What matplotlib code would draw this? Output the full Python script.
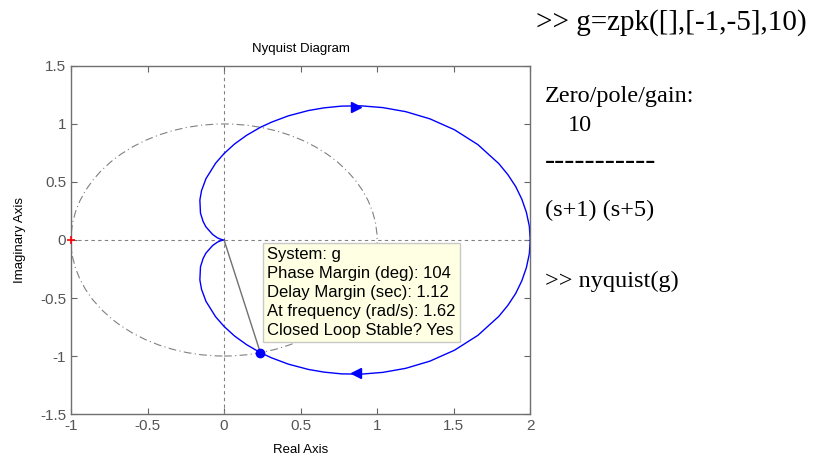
import matplotlib.pyplot as plt
from matplotlib.patches import Circle

# Nyquist curve, lower half (omega from 0 up to large)
nyq_re = [2.0, 1.994, 1.975, 1.945, 1.905, 1.854, 1.795, 1.658, 1.505, 1.345,
          1.187, 1.037, 0.897, 0.769, 0.654, 0.552, 0.420, 0.311, 0.237, 0.147,
          0.069, 0.0, -0.055, -0.118, -0.147, -0.158, -0.154, -0.137, -0.119,
          -0.075, -0.044, -0.023, -0.004, 0.0]
nyq_im = [0.0, -0.120, -0.238, -0.352, -0.461, -0.563, -0.658, -0.822, -0.950,
          -1.044, -1.106, -1.141, -1.156, -1.154, -1.139, -1.116, -1.070,
          -1.016, -0.971, -0.902, -0.828, -0.745, -0.662, -0.529, -0.426,
          -0.344, -0.231, -0.160, -0.114, -0.048, -0.019, -0.007, -0.0005, 0.0]

# arrow positions (upper / lower branch)
arrow_pt = [0.86, 1.150]
# phase margin point
pm_pt = [0.237, -0.971]

xticks = [-1, -0.5, 0, 0.5, 1, 1.5, 2]
xtick_labels = ['-1', '-0.5', '0', '0.5', '1', '1.5', '2']
yticks = [-1.5, -1, -0.5, 0, 0.5, 1, 1.5]
ytick_labels = ['-1.5', '-1', '-0.5', '0', '0.5', '1', '1.5']

tip_lines = ['System: g',
             'Phase Margin (deg): 104',
             'Delay Margin (sec): 1.12',
             'At frequency (rad/s): 1.62',
             'Closed Loop Stable? Yes']

# text, x, y, size
console_lines = [
    ('>> g=zpk([],[-1,-5],10)', 0.642, 0.950, 21),
    ('Zero/pole/gain:', 0.653, 0.790, 17.5),
    ('10', 0.680, 0.725, 17.5),
    ('-----------', 0.653, 0.648, 22),
    ('(s+1) (s+5)', 0.653, 0.540, 17.5),
    ('>> nyquist(g)', 0.653, 0.386, 17.5),
]

plt.rcParams['font.family'] = ['Liberation Sans', 'DejaVu Sans']

fig = plt.figure(figsize=(8.35, 4.58), dpi=100)
ax = fig.add_axes([0.085, 0.096, 0.550, 0.760])

gray = '#808080'
# unit circle
ax.add_patch(Circle((0, 0), 1, fill=False, ec=gray, lw=0.8, ls=(0, (7, 3, 1, 3))))
# axes through origin
ax.axhline(0, color=gray, lw=0.8, ls=(0, (3, 3)))
ax.axvline(0, color=gray, lw=0.8, ls=(0, (3, 3)))

ax.plot(nyq_re, nyq_im, color='blue', lw=1)
ax.plot(nyq_re, [-v for v in nyq_im], color='blue', lw=1)
ax.plot(arrow_pt[0], arrow_pt[1], marker='>', color='blue', ms=7, mec='blue')
ax.plot(arrow_pt[0], -arrow_pt[1], marker='<', color='blue', ms=7, mec='blue')

# critical point
ax.plot(-1, 0, marker='+', color='red', ms=6, mew=1.2, clip_on=False, zorder=5)

# phase margin marker and line from origin
ax.plot([0, pm_pt[0]], [0, pm_pt[1]], color='#707070', lw=1)
ax.plot(pm_pt[0], pm_pt[1], 'o', color='blue', ms=6)

ax.text(0.28, -0.06, '\n'.join(tip_lines), fontsize=12, va='top', ha='left',
        linespacing=1.34,
        bbox=dict(boxstyle='square,pad=0.25', fc='#ffffe3', ec='#c8c8c8', lw=1))

ax.set_xlim(-1, 2)
ax.set_ylim(-1.5, 1.5)
ax.set_xticks(xticks)
ax.set_xticklabels(xtick_labels)
ax.set_yticks(yticks)
ax.set_yticklabels(ytick_labels)
ax.tick_params(direction='in', top=True, right=True, length=4, width=0.8,
               colors='#666666', labelsize=11, labelcolor='#555555')
for s in ax.spines.values():
    s.set_color('#707070')
    s.set_linewidth(1)

ax.set_title('Nyquist Diagram', fontsize=9.5, pad=10)
ax.set_xlabel('Real Axis', fontsize=9.5, labelpad=8)
ax.set_ylabel('Imaginary Axis', fontsize=9.5, labelpad=10)

for txt, x, y, size in console_lines:
    fig.text(x, y, txt, fontsize=size, family='Liberation Serif', va='center', ha='left')

fig.savefig('out.png', dpi=100)
